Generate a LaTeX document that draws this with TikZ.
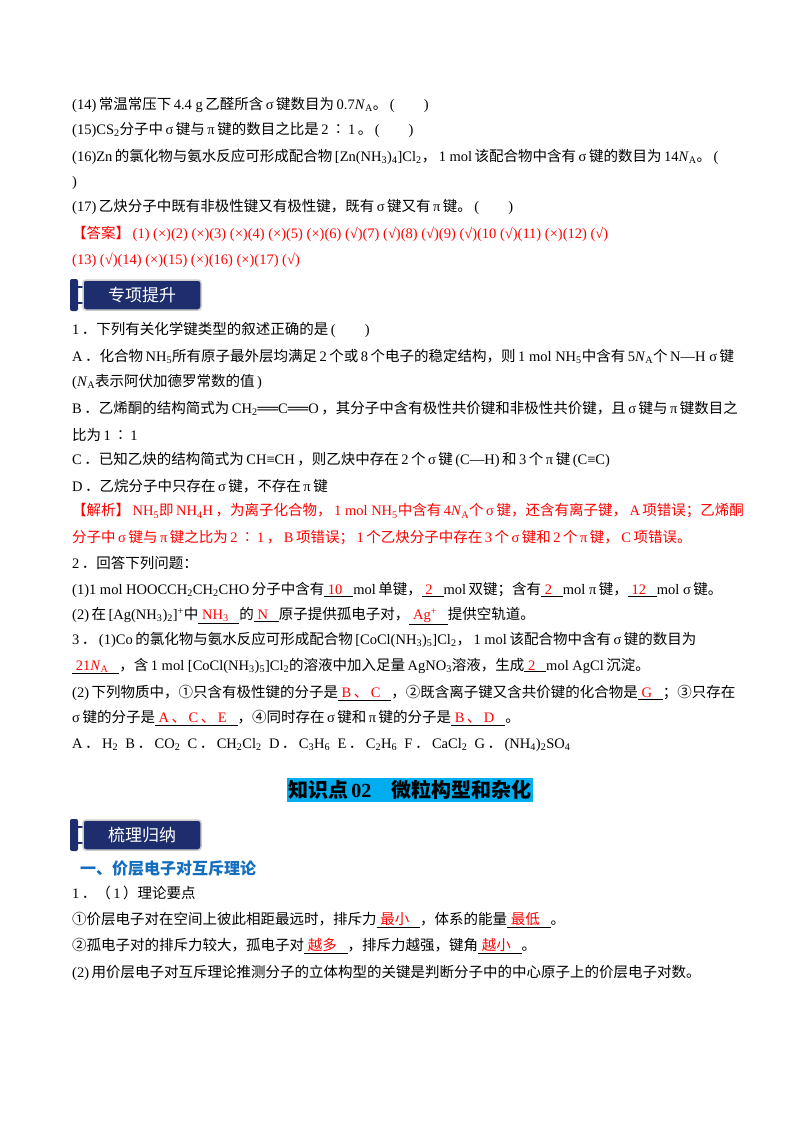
\documentclass[tikz,border=0pt]{standalone}
\usepackage{fontspec}
\setmainfont{Liberation Serif}
\newfontfamily\cjk{Noto Sans CJK SC}
\newXeTeXintercharclass\cjkcls
\newcount\cc
\def\setcls#1#2{\cc=#1 \loop \XeTeXcharclass\cc=\cjkcls \ifnum\cc<#2 \advance\cc 1 \repeat}
\setcls{"4E00}{"9FFF}\setcls{"3000}{"303F}\setcls{"FF00}{"FFEF}\setcls{"2460}{"2473}\setcls{"2236}{"2236}
\XeTeXinterchartoks 0 \cjkcls = {\hskip2.5pt\begingroup\cjk}
\XeTeXinterchartoks 4095 \cjkcls = {\begingroup\cjk}
\XeTeXinterchartoks \cjkcls 0 = {\endgroup\hskip2.5pt}
\XeTeXinterchartoks \cjkcls 4095 = {\endgroup}
\XeTeXinterchartokenstate=1
\def\NA{\textit{N}\textsubscript{A}}
\def\sb#1{\textsubscript{#1}}
\def\bl#1{\underline{\ \textcolor{red}{#1}\ \ \ }}
\definecolor{navy}{RGB}{30,45,110}
\definecolor{headblue}{RGB}{20,110,190}
\tikzset{ln/.style={anchor=west,inner sep=0pt,font=\fontsize{14.5}{16}\selectfont},
 rd/.style={ln,text=red},
 banner/.style={fill=navy,draw=gray!40,line width=1.5pt,rounded corners=3pt,text=white,font=\cjk\fontsize{17}{19}\selectfont,minimum width=118pt,minimum height=30pt}}
\begin{document}
\begin{tikzpicture}[x=1pt,y=-1pt]
\useasboundingbox (0,0) rectangle (800,1132);
\node[ln] (l1) at (72,105) {(14)常温常压下4.4 g乙醛所含σ键数目为0.7\NA。(\qquad)};
\node[ln] (l2) at (72,130) {(15)CS\sb{2}分子中σ键与π键的数目之比是2∶1。(\qquad)};
\node[ln] (l3) at (72,157) {(16)Zn的氯化物与氨水反应可形成配合物[Zn(NH\sb{3})\sb{4}]Cl\sb{2}，1 mol该配合物中含有σ键的数目为14\NA。(};
\node[ln] (l4) at (72,183) {)};
\node[ln] (l5) at (72,207) {(17)乙炔分子中既有非极性键又有极性键，既有σ键又有π键。(\qquad)};
\node[rd] (l6) at (72,234) {【答案】(1) (×)(2) (×)(3) (×)(4) (×)(5) (×)(6) (√)(7) (√)(8) (√)(9) (√)(10 (√)(11) (×)(12) (√)};
\node[rd] (l7) at (72,260) {(13) (√)(14) (×)(15) (×)(16) (×)(17) (√)};
\fill[navy,rounded corners=2pt] (70,279) rectangle (78,311);
\draw[navy,line width=1.5pt] (78,287) -- (86,287) (78,303) -- (86,303);
\node[banner] (b1) at (142,295) {专项提升};
\node[ln] (q1) at (72,330) {1．下列有关化学键类型的叙述正确的是(\qquad)};
\node[ln] (qa) at (72,356) {A．化合物NH\sb{5}所有原子最外层均满足2个或8个电子的稳定结构，则1 mol NH\sb{5}中含有5\NA 个N—H σ键};
\node[ln] (qa2) at (72,382) {(\NA 表示阿伏加德罗常数的值)};
\node[ln] (qb) at (72,408) {B．乙烯酮的结构简式为CH\sb{2}══C══O，其分子中含有极性共价键和非极性共价键，且σ键与π键数目之};
\node[ln] (qb2) at (72,435) {比为1∶1};
\node[ln] (qc) at (72,460) {C．已知乙炔的结构简式为CH≡CH，则乙炔中存在2个σ键(C—H)和3个π键(C≡C)};
\node[ln] (qd) at (72,486) {D．乙烷分子中只存在σ键，不存在π键};
\node[rd] (j1) at (72,511) {【解析】NH\sb{5}即NH\sb{4}H，为离子化合物，1 mol NH\sb{5}中含有4\NA 个σ键，还含有离子键，A项错误；乙烯酮};
\node[rd] (j2) at (72,538) {分子中σ键与π键之比为2∶1，B项错误；1个乙炔分子中存在3个σ键和2个π键，C项错误。};
\node[ln] (q2) at (72,563) {2．回答下列问题：};
\node[ln] (q21) at (72,590) {(1)1 mol HOOCCH\sb{2}CH\sb{2}CHO分子中含有\bl{10}mol单键，\bl{2}mol双键；含有\bl{2}mol π键，\bl{12}mol σ键。};
\node[ln] (q22) at (72,616) {(2)在[Ag(NH\sb{3})\sb{2}]\textsuperscript{+}中\bl{NH\sb{3}}的\bl{N}原子提供孤电子对，\bl{Ag\textsuperscript{+}}提供空轨道。};
\node[ln] (q3) at (72,640) {3．(1)Co的氯化物与氨水反应可形成配合物[CoCl(NH\sb{3})\sb{5}]Cl\sb{2}，1 mol该配合物中含有σ键的数目为};
\node[ln] (q32) at (72,666) {\bl{21\NA}，含1 mol [CoCl(NH\sb{3})\sb{5}]Cl\sb{2}的溶液中加入足量AgNO\sb{3}溶液，生成\bl{2}mol AgCl沉淀。};
\node[ln] (q33) at (72,693) {(2)下列物质中，①只含有极性键的分子是\bl{B、C}，②既含离子键又含共价键的化合物是\bl{G}；③只存在};
\node[ln] (q34) at (72,718) {σ键的分子是\bl{A、C、E}，④同时存在σ键和π键的分子是\bl{B、D}。};
\node[ln] (q35) at (72,745) {A．H\sb{2}\enspace B．CO\sb{2}\enspace C．CH\sb{2}Cl\sb{2}\enspace D．C\sb{3}H\sb{6}\enspace E．C\sb{2}H\sb{6}\enspace F．CaCl\sb{2}\enspace G．(NH\sb{4})\sb{2}SO\sb{4}};
\node[fill=cyan,inner sep=2pt,font=\bfseries\fontsize{20}{22}\selectfont] (h) at (410,790) {知识点02\quad 微粒构型和杂化};
\fill[navy,rounded corners=2pt] (70,819) rectangle (78,851);
\draw[navy,line width=1.5pt] (78,827) -- (86,827) (78,843) -- (86,843);
\node[banner] (b2) at (142,835) {梳理归纳};
\node[ln,text=headblue,font=\bfseries\fontsize{16}{18}\selectfont] (s1) at (80,868) {一、价层电子对互斥理论};
\node[ln] (p1) at (72,893) {1．（1）理论要点};
\node[ln] (p2) at (72,920) {①价层电子对在空间上彼此相距最远时，排斥力\bl{最小}，体系的能量\bl{最低}。};
\node[ln] (p3) at (72,946) {②孤电子对的排斥力较大，孤电子对\bl{越多}，排斥力越强，键角\bl{越小}。};
\node[ln] (p4) at (72,973) {(2)用价层电子对互斥理论推测分子的立体构型的关键是判断分子中的中心原子上的价层电子对数。};
\end{tikzpicture}
\end{document}
